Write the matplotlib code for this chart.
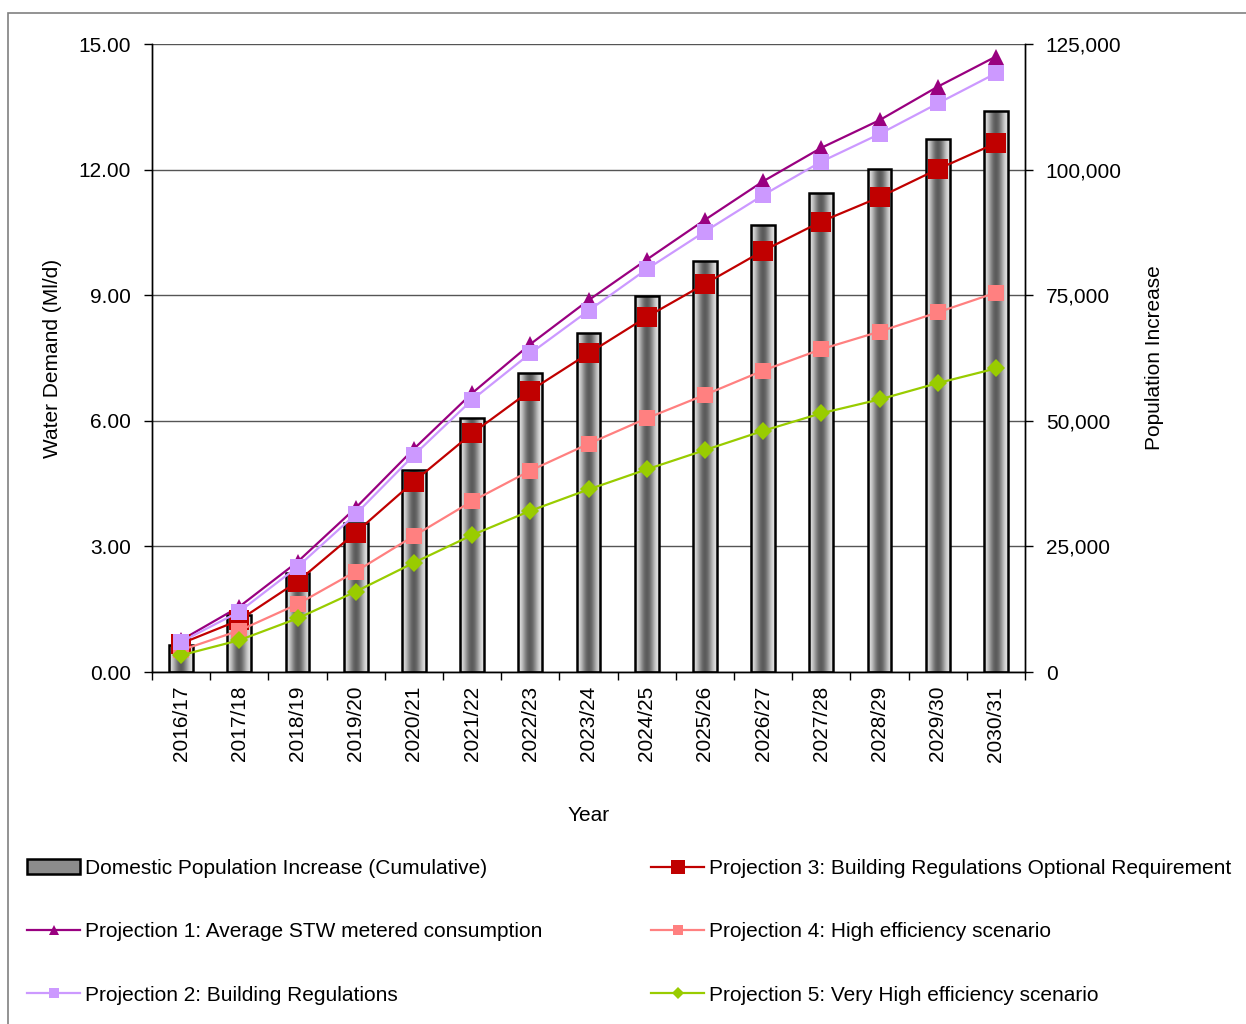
import numpy as np
import matplotlib.pyplot as plt
from matplotlib.patches import Rectangle, Patch
from matplotlib.lines import Line2D
from matplotlib.ticker import FuncFormatter, FixedLocator

plt.rcParams['font.family'] = ['Liberation Sans', 'DejaVu Sans']

years = ['2016/17', '2017/18', '2018/19', '2019/20', '2020/21', '2021/22', '2022/23',
         '2023/24', '2024/25', '2025/26', '2026/27', '2027/28', '2028/29', '2029/30', '2030/31']

# cumulative population increase (right axis)
pop = [5400, 11350, 19650, 29600, 40200, 50500, 59450, 67400, 74900, 81900,
       89000, 95300, 100100, 106100, 111700]

# water demand projections (Ml/d)
p1 = [0.76, 1.56, 2.63, 3.92, 5.33, 6.66, 7.83, 8.88, 9.85, 10.80, 11.72, 12.52, 13.18, 13.98, 14.70]
p2 = [0.72, 1.44, 2.51, 3.77, 5.18, 6.50, 7.61, 8.63, 9.62, 10.52, 11.39, 12.19, 12.85, 13.58, 14.30]
p3 = [0.68, 1.24, 2.16, 3.33, 4.55, 5.70, 6.72, 7.61, 8.48, 9.27, 10.06, 10.76, 11.34, 12.01, 12.63]
p4 = [0.52, 0.99, 1.62, 2.40, 3.25, 4.08, 4.81, 5.45, 6.06, 6.62, 7.20, 7.71, 8.13, 8.59, 9.06]
p5 = [0.40, 0.76, 1.28, 1.92, 2.61, 3.27, 3.85, 4.36, 4.84, 5.30, 5.76, 6.18, 6.51, 6.90, 7.25]

bar_label = 'Domestic Population Increase (Cumulative)'
labels = ['Projection 1: Average STW metered consumption',
          'Projection 2: Building Regulations',
          'Projection 3: Building Regulations Optional Requirement',
          'Projection 4: High efficiency scenario',
          'Projection 5: Very High efficiency scenario']

fs = 15
fig = plt.figure(figsize=(12.46, 10.24), dpi=100)
ax1 = fig.add_axes([152/1246, 1 - 672/1024, (1025-152)/1246, (672-44)/1024])
ax2 = ax1.twinx()
ax1.set_zorder(ax2.get_zorder() + 1)
ax1.patch.set_visible(False)

x = np.arange(len(years))

# bars with a cylinder-like grey shading
bars = ax2.bar(x, pop, width=0.41, facecolor='none', edgecolor='black', linewidth=1.8, zorder=2)
t = np.linspace(0, 1, 64)
grad = (0.88 - 0.52 * np.sin(np.pi * t) ** 2)[None, :]
for b in bars:
    bx, bw, bh = b.get_x(), b.get_width(), b.get_height()
    im = ax2.imshow(grad, extent=[bx, bx + bw, 0, bh], aspect='auto', cmap='gray',
                    vmin=0, vmax=1, zorder=1.5, interpolation='bilinear')
    im.set_clip_path(b)

ax2.set_xlim(-0.5, len(years) - 0.5)
ax2.set_ylim(0, 125000)
ax2.set_yticks(np.arange(0, 125001, 25000))
ax2.yaxis.set_major_formatter(FuncFormatter(lambda v, p: f'{int(v):,}'))
ax2.set_axisbelow(True)
ax2.grid(axis='y', color='#555555', linewidth=1.0, zorder=0.5)
ax2.tick_params(axis='y', labelsize=fs, length=6, width=1, pad=9, direction='out')
ax2.set_ylabel('Population Increase', fontsize=fs, labelpad=17)

styles = [
    (p1, '#990080', '^', 12, 1),
    (p3, '#C00000', 's', 14.5, 2),
    (p4, '#FF8080', 's', 11, 3),
    (p5, '#99CC00', 'D', 9.5, 4),
    (p2, '#CC99FF', 's', 11.5, 5),
]
for vals, col, mk, ms, z in styles:
    ax1.plot(x, vals, color=col, marker=mk, markersize=ms, linewidth=1.6,
             markeredgewidth=0, zorder=z)

ax1.set_xlim(-0.5, len(years) - 0.5)
ax1.set_ylim(0, 15)
ax1.set_yticks(np.arange(0, 15.01, 3))
ax1.yaxis.set_major_formatter(FuncFormatter(lambda v, p: f'{v:.2f}'))
ax1.tick_params(axis='y', labelsize=fs, length=6, width=1, pad=9, direction='out')
ax1.set_xticks(x)
ax1.set_xticklabels(years, rotation=90, fontsize=fs)
ax1.tick_params(axis='x', which='major', length=0, pad=10)
ax1.xaxis.set_minor_locator(FixedLocator(np.arange(-0.5, len(years), 1)))
ax1.tick_params(axis='x', which='minor', length=6, width=1, direction='out')
ax1.set_ylabel('Water Demand (Ml/d)', fontsize=fs, labelpad=12)
ax1.set_xlabel('Year', fontsize=fs, labelpad=32)

for a in (ax1, ax2):
    a.spines['top'].set_visible(False)
    for s in ('left', 'right', 'bottom'):
        a.spines[s].set_linewidth(1)

# legend
h_bar = Patch(facecolor='#8c8c8c', edgecolor='black', linewidth=1.8)
h_lines = []
for vals, col, mk, ms, z in [styles[0], styles[4], styles[1], styles[2], styles[3]]:
    h_lines.append(Line2D([], [], color=col, marker=mk, markersize=ms * 0.65,
                          linewidth=1.6, markeredgewidth=0))
handles = [h_bar, h_lines[0], h_lines[1], h_lines[2], h_lines[3], h_lines[4]]
leg_labels = [bar_label, labels[0], labels[1], labels[2], labels[3], labels[4]]
fig.legend(handles, leg_labels, ncol=2, loc='upper left',
           bbox_to_anchor=(27/1246, 1 - 859/1024), frameon=False, fontsize=fs,
           handlelength=2.55, handletextpad=0.25, labelspacing=2.13,
           columnspacing=5.2, borderaxespad=0, borderpad=0)

# outer chart frame
fig.patches.append(Rectangle((8/1246, -0.05), 1.1, 1 - 13/1024 + 0.05,
                             transform=fig.transFigure, fill=False,
                             edgecolor='#808080', linewidth=1.2))

fig.savefig('out.png', dpi=100)
